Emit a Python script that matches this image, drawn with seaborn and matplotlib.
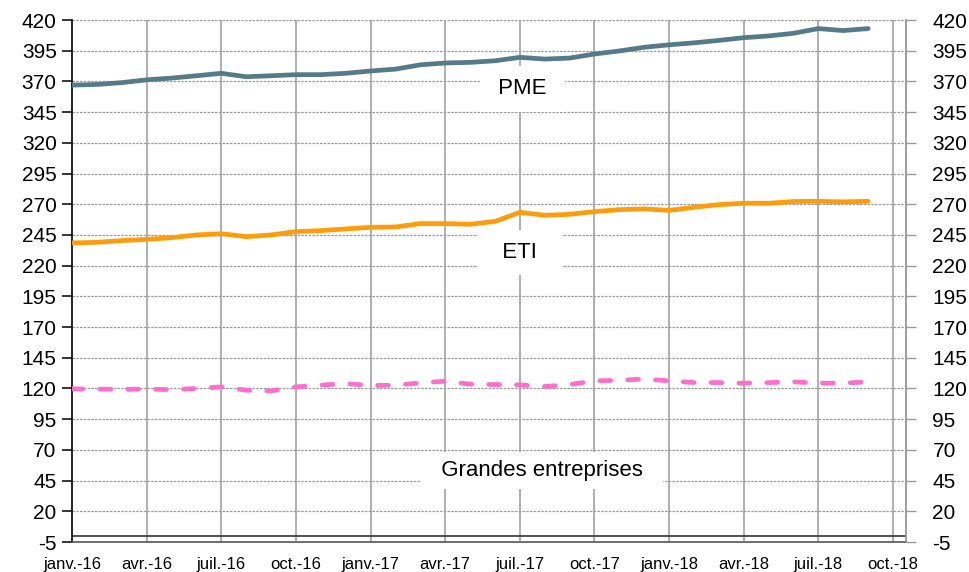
import matplotlib
matplotlib.use("Agg")
import matplotlib.pyplot as plt
import seaborn as sns
import pandas as pd
import numpy as np

# ---- data ----
mois = list(range(33))  # janv.-16 .. sept.-18
pme = [367, 367.5, 369, 371.3, 372.7, 374.6, 376.6, 373.8, 374.6, 375.5, 375.5, 376.6,
       378.5, 380, 383.5, 385, 385.5, 386.8, 389.6, 388.2, 389, 392.3, 394.8, 397.8,
       399.8, 401.4, 403.4, 405.6, 407, 409.2, 413, 411.4, 413]
eti = [238.5, 239, 240.4, 241.4, 242.8, 245, 246, 243.6, 245, 247.7, 248.5, 249.9,
       251.2, 251.5, 254.2, 254.2, 253.7, 256, 263.4, 261, 261.8, 264, 265.6, 266.2,
       265, 267.5, 269.7, 270.8, 270.8, 272.2, 272.4, 271.9, 272.4]
ge = [119.7, 119.5, 119.3, 119.5, 119, 120, 121.3, 118.6, 118, 121.3, 122.7, 124,
      122.4, 122.7, 124.5, 125.9, 123.5, 123.2, 122.9, 121.6, 123.2, 126.2, 126.7, 127.7,
      126.2, 124.8, 124.8, 124.3, 124.8, 125.4, 124.3, 124.3, 125.4]
series_names = ["PME", "ETI", "Grandes entreprises"]
tick_pos = list(range(0, 34, 3))
tick_labels = ["janv.-16", "avr.-16", "juil.-16", "oct.-16", "janv.-17", "avr.-17",
               "juil.-17", "oct.-17", "janv.-18", "avr.-18", "juil.-18", "oct.-18"]
y_ticks = list(range(-5, 421, 25))

df = pd.DataFrame({
    "mois": mois * 3,
    "valeur": pme + eti + ge,
    "serie": [series_names[0]] * 33 + [series_names[1]] * 33 + [series_names[2]] * 33,
})

sns.set_theme(style="white")
plt.rcParams["font.family"] = ["Liberation Sans", "DejaVu Sans"]
plt.rcParams["text.color"] = "black"
plt.rcParams["xtick.color"] = "black"
plt.rcParams["ytick.color"] = "black"

fig = plt.figure(figsize=(9.7, 5.72), dpi=100)
ax = fig.add_axes([72/970, 1-542/572, (906-72)/970, (542-20)/572])

palette = {"PME": "#557a88", "ETI": "#ff9c0a", "Grandes entreprises": "#ff6ecb"}
dashes = {"PME": "", "ETI": "", "Grandes entreprises": (2.3, 3.6)}
sns.lineplot(data=df, x="mois", y="valeur", hue="serie", style="serie",
             palette=palette, dashes=dashes, linewidth=3.4, legend=False, ax=ax,
             zorder=5)
for ln in ax.get_lines():
    ln.set_dash_capstyle("round")
    ln.set_solid_capstyle("round")

ax.set_xlim(0, 33.52)
ax.set_ylim(-5, 420)
ax.set_xticks(tick_pos)
ax.set_xticklabels(tick_labels, fontsize=12)
ax.set_yticks(y_ticks)
ax.set_yticklabels([str(v) for v in y_ticks], fontsize=15)
ax.set_xlabel("")
ax.set_ylabel("")

# grid
for v in y_ticks[1:]:
    ax.axhline(v, color="#9a9a9a", lw=0.9, ls=(0, (2, 1)), zorder=1)
for t in tick_pos[1:]:
    ax.axvline(t, color="#9a9a9a", lw=1.1, zorder=1)
ax.axhline(0, color="#333333", lw=1.2, zorder=2)

ax.spines["top"].set_visible(False)
ax.spines["left"].set_color("black")
ax.spines["left"].set_linewidth(1.2)
ax.spines["bottom"].set_color("#555555")
ax.spines["bottom"].set_linewidth(1.2)
ax.spines["right"].set_color("#9a9a9a")
ax.spines["right"].set_linewidth(1.1)

ax.tick_params(axis="y", left=True, length=7, width=1.1, color="black", pad=4,
               labelcolor="black")
ax.tick_params(axis="x", bottom=False, length=0, pad=11, labelcolor="black")

ax2 = ax.twinx()
ax2.set_ylim(-5, 420)
ax2.set_yticks(y_ticks)
ax2.set_yticklabels([str(v) for v in y_ticks], fontsize=15)
ax2.tick_params(axis="y", right=True, length=7, width=1.0, color="#9a9a9a", pad=12,
                labelcolor="black")
for s in ["top", "left", "bottom"]:
    ax2.spines[s].set_visible(False)
ax2.spines["right"].set_color("#9a9a9a")
ax2.spines["right"].set_linewidth(1.1)

# labels
box = dict(boxstyle="square,pad=0.55", fc="white", ec="none")
ax.text(18.1, 364, "\u00a0PME\u00a0", fontsize=16, ha="center", va="center", bbox=box, zorder=4)
ax.text(18.0, 230.5, "\u00a0\u00a0ETI\u00a0\u00a0", fontsize=16, ha="center", va="center", bbox=box, zorder=4)
ax.text(18.9, 53, "\u00a0\u00a0Grandes entreprises\u00a0\u00a0", fontsize=16, ha="center", va="center",
        bbox=dict(boxstyle="square,pad=0.35", fc="white", ec="none"), zorder=4)

fig.savefig("out.png", dpi=100)
